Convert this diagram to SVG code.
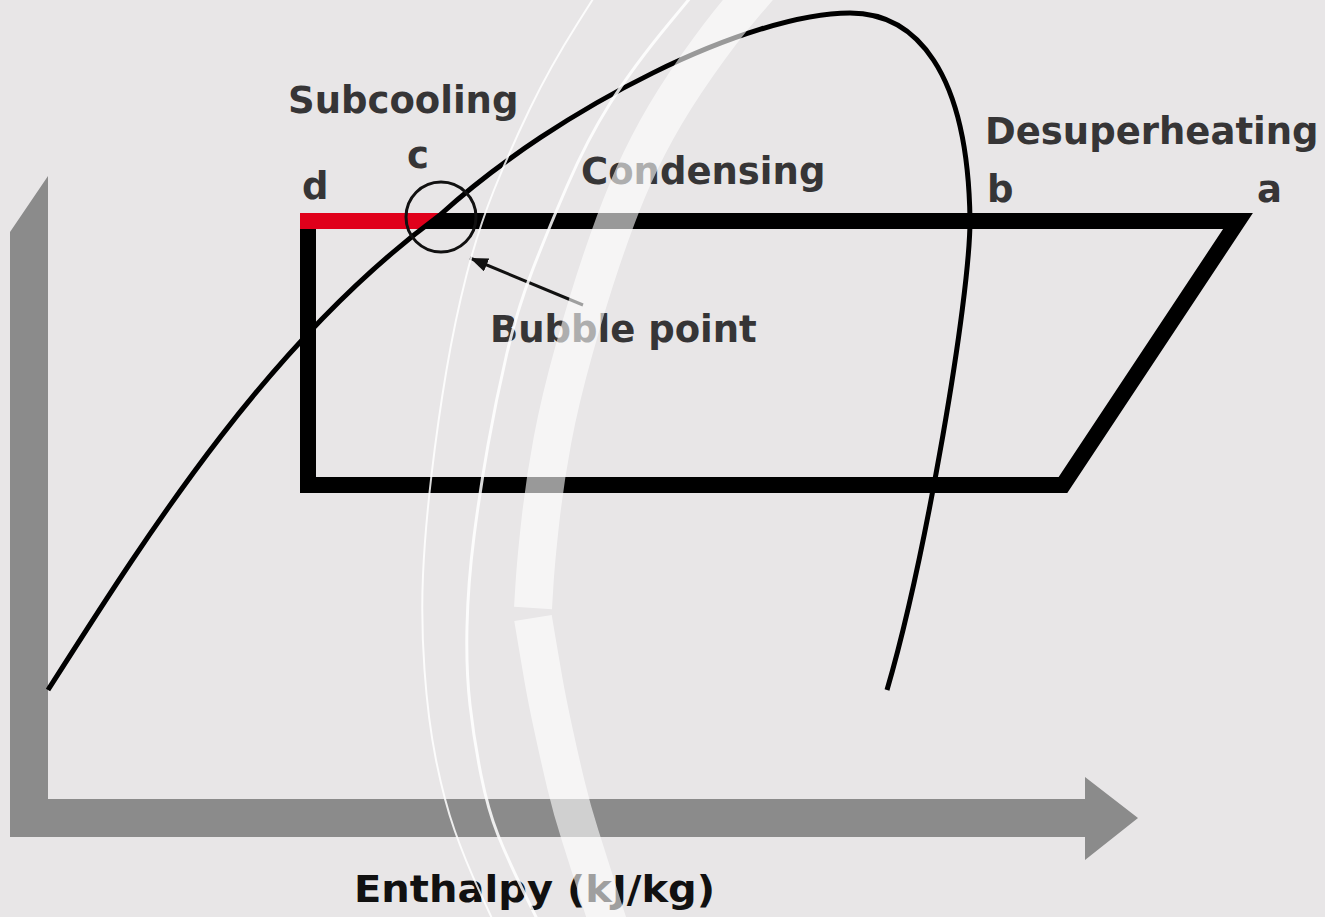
<svg xmlns="http://www.w3.org/2000/svg" width="1325" height="917" viewBox="0 0 1325 917">
  <defs>
    <style>
      .lbl { font-family: "DejaVu Sans", Verdana, sans-serif; font-weight: bold; font-size: 37px; fill: #363536; }
      .ax { fill: #8b8b8b; }
      .thin { fill: none; stroke: #ffffff; stroke-opacity: 0.85; }
      .thick { fill: none; stroke: #ffffff; stroke-opacity: 0.6; stroke-width: 38; }
    </style>
    <marker id="ah" markerUnits="userSpaceOnUse" markerWidth="22" markerHeight="18" refX="18" refY="7" orient="auto">
      <path d="M0,0 L18,7 L0,14 Z" fill="#111"/>
    </marker>
  </defs>

  <rect x="0" y="0" width="1325" height="917" fill="#e8e6e7"/>

  <g id="axes">
    <polygon class="ax" points="10,232 48,176 48,799 1085,799 1085,777 1138,818 1085,860 1085,837 10,837"/>
  </g>

  <g id="cycle">
    <polygon points="308,221 1238,221 1063,485 308,485" fill="none" stroke="#000" stroke-width="16" stroke-linejoin="miter"/>
    <polygon id="subcool-segment" points="300,213 441,213 424,229 300,229" fill="#e0001b"/>
  </g>

  <g id="dome">
    <path d="M48,690 C150,530 270,340 440,215 C560,106 750,13 850,13 C915,13 968,70 970,220 C970,300 925,560 887,690" fill="none" stroke="#000" stroke-width="5"/>
  </g>

  <g id="connectors">
    <circle cx="441" cy="217" r="35" fill="none" stroke="#111" stroke-width="3"/>
    <line x1="583" y1="305" x2="470" y2="258" stroke="#111" stroke-width="3" marker-end="url(#ah)"/>
  </g>

  <g id="labels">
    <text class="lbl" x="288" y="113">Subcooling</text>
    <text class="lbl" x="407" y="168">c</text>
    <text class="lbl" x="302" y="199">d</text>
    <text class="lbl" x="581" y="184">Condensing</text>
    <text class="lbl" x="985" y="144">Desuperheating</text>
    <text class="lbl" x="987" y="202">b</text>
    <text class="lbl" x="1257" y="202">a</text>
    <text class="lbl" x="490" y="342">Bubble point</text>
    <text class="lbl" x="354" y="902" style="fill:#111; font-size:38px" textLength="361" lengthAdjust="spacingAndGlyphs">Enthalpy (kJ/kg)</text>
  </g>

  <g id="watermark">
    <path class="thin" stroke-width="2" d="M605,-20 L577.5,23.5 Q550,67 530,108.5 Q510,150 494,190 Q478,230 466.5,275 Q455,320 446.5,370 Q438,420 431.5,475 Q425,530 423,575 Q421,620 424.5,670 Q428,720 436,760 Q444,800 454.5,830 Q465,860 480,892.5 L495,925"/>
    <path class="thin" stroke-width="3" d="M705,-20 L669,23.5 Q633,67 610,103.5 Q587,140 567.5,185 Q548,230 532.5,270 Q517,310 506.5,355 Q496,400 488,445 Q480,490 474,536.5 Q468,583 467,626.5 Q466,670 470,705 Q474,740 481,775 Q488,810 498,835 Q508,860 524,892.5 L540,925"/>
    <path class="thick" d="M765,-20 L743.5,5 Q722,30 697.5,65 Q673,100 656.5,130 Q640,160 627.5,190 Q615,220 601.5,260 Q588,300 574,350 Q560,400 552.5,440 Q545,480 540.5,520 Q536,560 534.5,584 L533,608"/>
    <path class="thick" d="M533,618 L536.5,639 Q540,660 543.5,680 Q547,700 553.5,730 Q560,760 566,785 Q572,810 580,835 Q588,860 597,888.5 Q606,917 609,926 L612,935"/>
  </g>
</svg>
